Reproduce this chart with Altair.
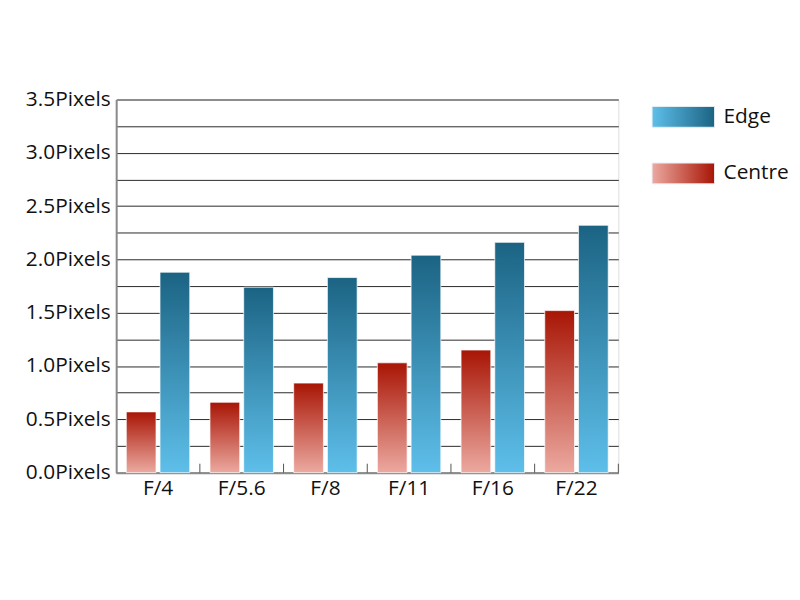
import altair as alt
import pandas as pd

apertures = ["F/4", "F/5.6", "F/8", "F/11", "F/16", "F/22"]
centre_px = [0.57, 0.66, 0.84, 1.03, 1.15, 1.52]
edge_px = [1.88, 1.74, 1.83, 2.04, 2.16, 2.32]
offset_order = ["Centre", "Edge"]
legend_order = ["Edge", "Centre"]
y_ticks = [0.0, 0.25, 0.5, 0.75, 1.0, 1.25, 1.5, 1.75, 2.0, 2.25, 2.5, 2.75, 3.0, 3.25, 3.5]

rows = []
for a, c, e in zip(apertures, centre_px, edge_px):
    rows.append({"aperture": a, "series": "Centre", "value": c})
    rows.append({"aperture": a, "series": "Edge", "value": e})
df = pd.DataFrame(rows)
ticks_df = pd.DataFrame({"aperture": apertures})
legend_df = pd.DataFrame({"series": legend_order})

EDGE_DARK, EDGE_LIGHT = "#1b6383", "#5ebfea"
CEN_DARK, CEN_LIGHT = "#a81505", "#eca9a0"


def grad(c0, c1, horizontal=False):
    return {
        "gradient": "linear",
        "stops": [{"offset": 0, "color": c0}, {"offset": 1, "color": c1}],
        "x1": 0, "y1": 0,
        "x2": 1 if horizontal else 0,
        "y2": 0 if horizontal else 1,
    }


FONT = "Open Sans"
TEXT = "#111111"

x_enc = alt.X("aperture:N", sort=apertures, title=None,
              scale=alt.Scale(paddingInner=0, paddingOuter=0),
              axis=alt.Axis(labelAngle=0, ticks=False, labelFontSize=21, labelFont=FONT,
                            labelColor=TEXT, labelPadding=5, domainColor="#8a8a8a",
                            domainWidth=2, grid=False))

label_expr = "(datum.value * 2) % 1 == 0 ? format(datum.value, '.1f') + 'Pixels' : ''"

bars = alt.Chart(df).mark_bar(stroke="white", strokeOpacity=0.7, strokeWidth=1).encode(
    x=x_enc,
    xOffset=alt.XOffset("series:N", sort=offset_order,
                        scale=alt.Scale(domain=offset_order, paddingInner=0.118, paddingOuter=0.3)),
    y=alt.Y("value:Q", title=None,
            scale=alt.Scale(domain=[0, 3.5], nice=False),
            axis=alt.Axis(values=y_ticks, labelExpr=label_expr, ticks=False,
                          labelFontSize=21, labelFont=FONT, labelColor=TEXT,
                          labelPadding=6, grid=True, gridColor="#2a2a2a", gridWidth=1,
                          domainColor="#8a8a8a", domainWidth=2)),
    color=alt.condition("datum.series === 'Edge'",
                        alt.value(grad(EDGE_DARK, EDGE_LIGHT)),
                        alt.value(grad(CEN_DARK, CEN_LIGHT))),
)

tick_rules = alt.Chart(ticks_df).mark_rule(color="#555", strokeWidth=1).encode(
    x=alt.X("aperture:N", sort=apertures, bandPosition=1),
    y=alt.value(376),
    y2=alt.value(367),
)

# legend drawn as its own layer with an independent band scale
leg_y = alt.Y("series:N", sort=legend_order, axis=None, title=None,
              scale=alt.Scale(type="band", domain=legend_order, paddingInner=0.632,
                              paddingOuter=0, range=[7, 85]))

swatches = alt.Chart(legend_df).mark_rect(stroke="#e8eef2", strokeWidth=1).encode(
    y=leg_y,
    x=alt.value(540),
    x2=alt.value(603),
    color=alt.condition("datum.series === 'Edge'",
                        alt.value(grad(EDGE_LIGHT, EDGE_DARK, True)),
                        alt.value(grad(CEN_LIGHT, CEN_DARK, True))),
)

labels = alt.Chart(legend_df).mark_text(align="left", baseline="middle", fontSize=21,
                                        font=FONT, color=TEXT).encode(
    y=leg_y,
    x=alt.value(612),
    text="series:N",
)

chart = alt.layer(bars, tick_rules, swatches, labels).resolve_scale(
    y="independent"
).properties(
    width=506, height=376,
    autosize=alt.AutoSizeParams(type="none"),
    padding={"left": 109, "top": 90, "right": 175, "bottom": 110},
).configure_view(stroke=None).configure(font=FONT)

chart.save("out.html", embed_options={"renderer": "svg", "actions": False})
